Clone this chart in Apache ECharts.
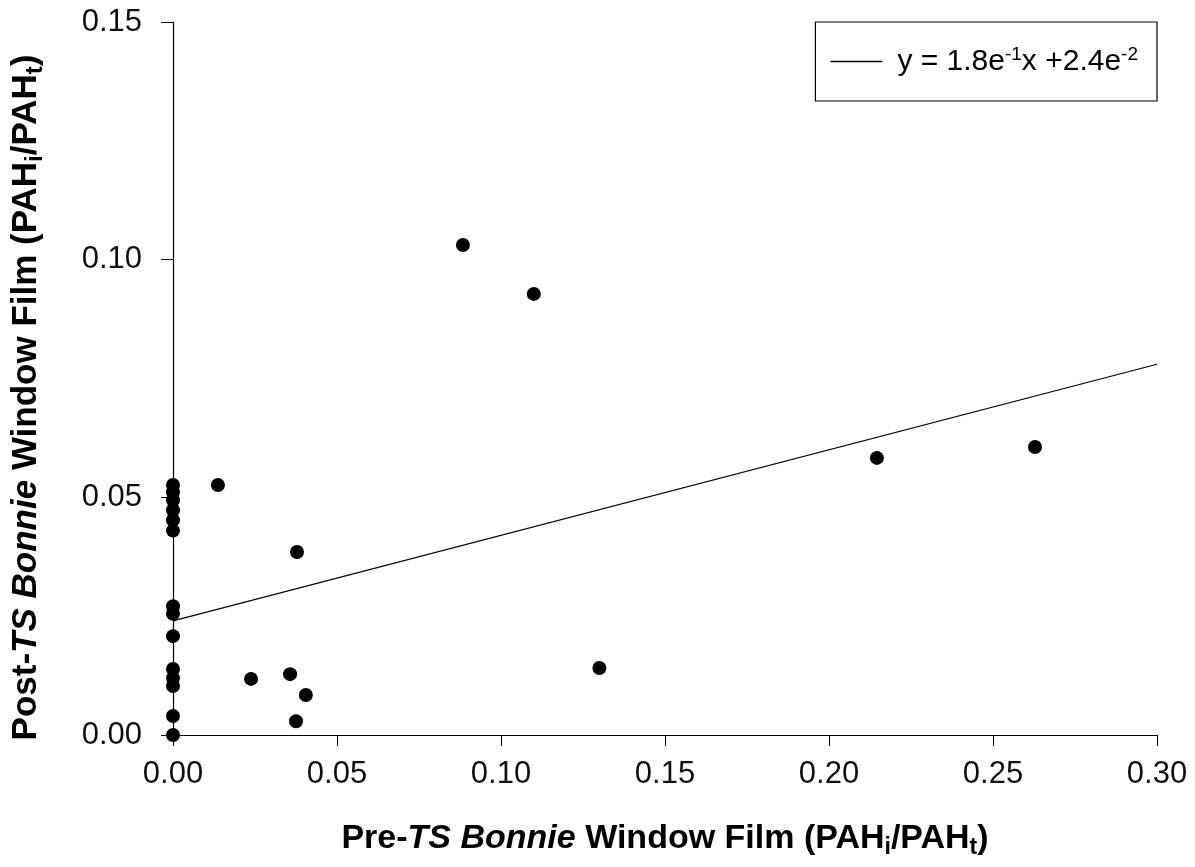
<!DOCTYPE html>
<html>
<head>
<meta charset="utf-8">
<script src="https://cdn.jsdelivr.net/npm/echarts@6/dist/echarts.min.js"></script>
<style>html,body{margin:0;padding:0;background:#fff}#c{width:1195px;height:867px}</style>
</head>
<body>
<div id="c"></div>
<script>
// Pre-TS Bonnie (x) vs Post-TS Bonnie (y) window film ratios
const preX = [0, 0, 0, 0, 0, 0, 0, 0, 0, 0, 0, 0, 0, 0,
  0.0137, 0.0238, 0.0357, 0.0378, 0.0375, 0.0405, 0.0884, 0.110, 0.130, 0.2146, 0.2628];
const postY = [0.0526, 0.0511, 0.0494, 0.0473, 0.0452, 0.0430, 0.0271, 0.0255, 0.0208, 0.0139, 0.0120, 0.0103, 0.0040, 0.0000,
  0.0526, 0.0118, 0.0128, 0.0385, 0.0029, 0.0084, 0.1031, 0.0928, 0.0141, 0.0583, 0.0606];
// regression line endpoints (y = 1.8e-1 x + 2.4e-2)
const fitX = [0, 0.30];
const fitY = [0.024, 0.078];
const xTicks = [0, 0.05, 0.10, 0.15, 0.20, 0.25, 0.30];
const yTicks = [0, 0.05, 0.10, 0.15];
const legendLabel = 'y = 1.8e-1x +2.4e-2';

const FONT = '"Liberation Sans", Arial, sans-serif';
const chart = echarts.init(document.getElementById('c'));
function titleRich(sz) {
  return {
    b: {fontFamily: FONT, fontWeight: 'bold', fontSize: sz, color: '#000'},
    bi: {fontFamily: FONT, fontWeight: 'bold', fontStyle: 'italic', fontSize: sz, color: '#000'},
    sub: {fontFamily: FONT, fontWeight: 'bold', fontSize: Math.round(sz * 0.68), color: '#000', verticalAlign: 'bottom', padding: [Math.round(sz * 0.5), 0, 0, 0]}
  };
}
chart.setOption({
  animation: false,
  backgroundColor: '#fff',
  grid: {left: 173, right: 38, top: 22, bottom: 132},
  legend: {
    show: true,
    right: 38, top: 22,
    data: [{name: legendLabel, icon: 'path://M0,0 L52,0 L52,1.5 L0,1.5 Z', itemStyle: {color: '#000'}}],
    itemWidth: 52, itemHeight: 2,
    borderColor: '#000', borderWidth: 1.2, borderRadius: 0,
    padding: [23, 19, 23, 15],
    formatter: function () { return '{n|y = 1.8e}{s|-1}{n|x +2.4e}{s|-2}'; },
    textStyle: {
      padding: [0, 0, 0, 10],
      rich: {
        n: {fontFamily: FONT, fontSize: 30, color: '#000', lineHeight: 33},
        s: {fontFamily: FONT, fontSize: 19, color: '#000', verticalAlign: 'top', lineHeight: 33, padding: [0, 0, 14, 0]}
      }
    }
  },
  xAxis: {
    type: 'value', min: 0, max: 0.30, interval: 0.05,
    name: '{b|Pre-}{bi|TS Bonnie}{b| Window Film (PAH}{sub|i}{b|/PAH}{sub|t}{b|)}',
    nameLocation: 'middle', nameGap: 84,
    nameTextStyle: {rich: titleRich(34)},
    axisLine: {lineStyle: {color: '#000', width: 1.2}},
    axisTick: {show: true, inside: false, length: 11, lineStyle: {color: '#000'}},
    axisLabel: {fontFamily: FONT, fontSize: 31, color: '#111', margin: 24,
      formatter: v => v.toFixed(2)},
    splitLine: {show: false}
  },
  yAxis: {
    type: 'value', min: 0, max: 0.15, interval: 0.05,
    name: '{b|Post-}{bi|TS Bonnie}{b| Window Film (PAH}{sub|i}{b|/PAH}{sub|t}{b|)}',
    nameLocation: 'middle', nameGap: 126,
    nameTextStyle: {rich: titleRich(35), padding: [0, 38, 0, 0]},
    axisLine: {show: true, lineStyle: {color: '#000', width: 1.2}},
    axisTick: {show: true, inside: false, length: 12, lineStyle: {color: '#000'}},
    axisLabel: {fontFamily: FONT, fontSize: 31, color: '#111', margin: 31,
      formatter: v => v.toFixed(2)},
    splitLine: {show: false}
  },
  series: [
    {
      type: 'scatter', name: 'data', clip: false,
      symbol: 'circle', symbolSize: 14,
      itemStyle: {color: '#000', opacity: 1},
      data: preX.map((x, i) => [x, postY[i]]),
      z: 3
    },
    {
      type: 'line', name: legendLabel, showSymbol: false, symbol: 'none',
      color: '#000',
      lineStyle: {color: '#000', width: 1.2},
      data: fitX.map((x, i) => [x, fitY[i]]),
      z: 2
    }
  ]
});
</script>
</body>
</html>
